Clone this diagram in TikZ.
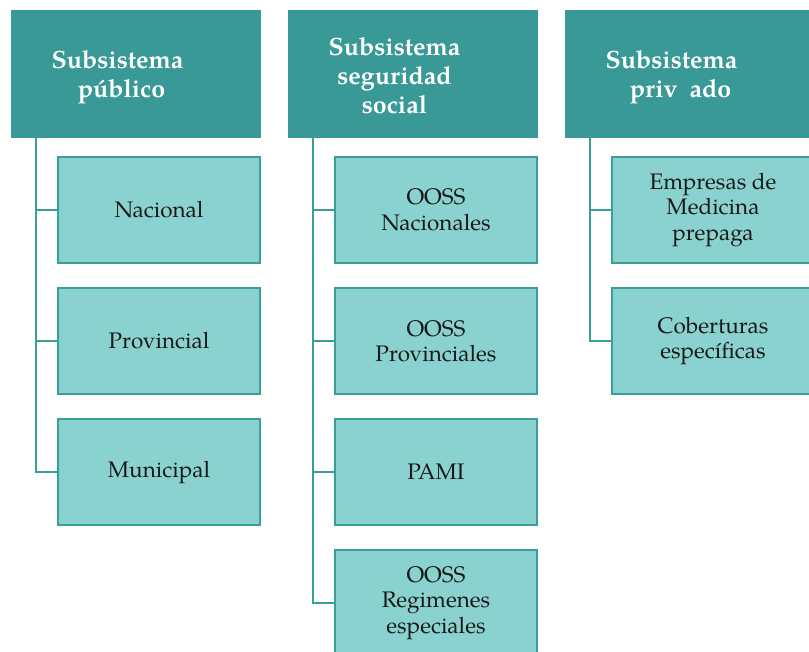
\documentclass[tikz,border=0pt]{standalone}
\usepackage{fontspec}
\setmainfont{TeX Gyre Pagella}
\usetikzlibrary{calc}
\definecolor{headfill}{RGB}{56,153,150}
\definecolor{childfill}{RGB}{138,210,208}
\definecolor{edgeteal}{RGB}{58,158,153}
\tikzset{
  x=1pt, y=1pt,
  headbox/.style={fill=headfill, draw=none, minimum width=250pt, minimum height=128pt, inner sep=0pt},
  headtext/.style={text=white, font=\fontsize{25}{29}\selectfont\bfseries, align=center, inner sep=0pt},
  childbox/.style={fill=childfill, draw=edgeteal, line width=2.5pt, minimum width=202pt, minimum height=106pt, inner sep=0pt, align=center, font=\fontsize{22.5}{25.5}\selectfont, text=black!90},
  conn/.style={draw=edgeteal, line width=2.5pt}
}
\begin{document}
\begin{tikzpicture}
\useasboundingbox (0,0) rectangle (809,-652);
\clip (0,0) rectangle (809,-652);
% headers
\node[headbox] (h1) at (136,-74) {};
\node[headbox] (h2) at (413,-74) {};
\node[headbox] (h3) at (690,-74) {};
\node[headtext] (t1) at (117.5,-77.5) {Subsistema\\\hspace*{8pt}público};
\node[headtext] (t2) at (394.5,-76) {Subsistema\\seguridad\hspace*{9pt}\\social};
\node[headtext] (t3) at (671.5,-77.5) {Subsistema\\\hspace*{18pt}priv\hspace{12pt}ado};
% spine coordinates
\coordinate (s1) at (36,-138);
\coordinate (s2) at (313,-138);
\coordinate (s3) at (590,-138);
% column 1
\node[childbox] (a1) at (159,-210) {Nacional};
\node[childbox] (a2) at (159,-341) {Provincial};
\node[childbox] (a3) at (159,-472) {Municipal};
% column 2
\node[childbox] (b1) at (436,-210) {OOSS\\Nacionales};
\node[childbox] (b2) at (436,-341) {OOSS\\Provinciales};
\node[childbox] (b3) at (436,-472) {PAMI};
\node[childbox] (b4) at (436,-603) {OOSS\\Regimenes\\especiales};
% column 3
\node[childbox] (c1) at (713,-210) {Empresas de\\Medicina\\prepaga};
\node[childbox] (c2) at (713,-341) {Coberturas\\específicas};
% connectors
\draw[conn] (s1) |- (a1.west);
\draw[conn] (s1) |- (a2.west);
\draw[conn] (s1) |- (a3.west);
\draw[conn] (s2) |- (b1.west);
\draw[conn] (s2) |- (b2.west);
\draw[conn] (s2) |- (b3.west);
\draw[conn] (s2) |- (b4.west);
\draw[conn] (s3) |- (c1.west);
\draw[conn] (s3) |- (c2.west);
\end{tikzpicture}
\end{document}
